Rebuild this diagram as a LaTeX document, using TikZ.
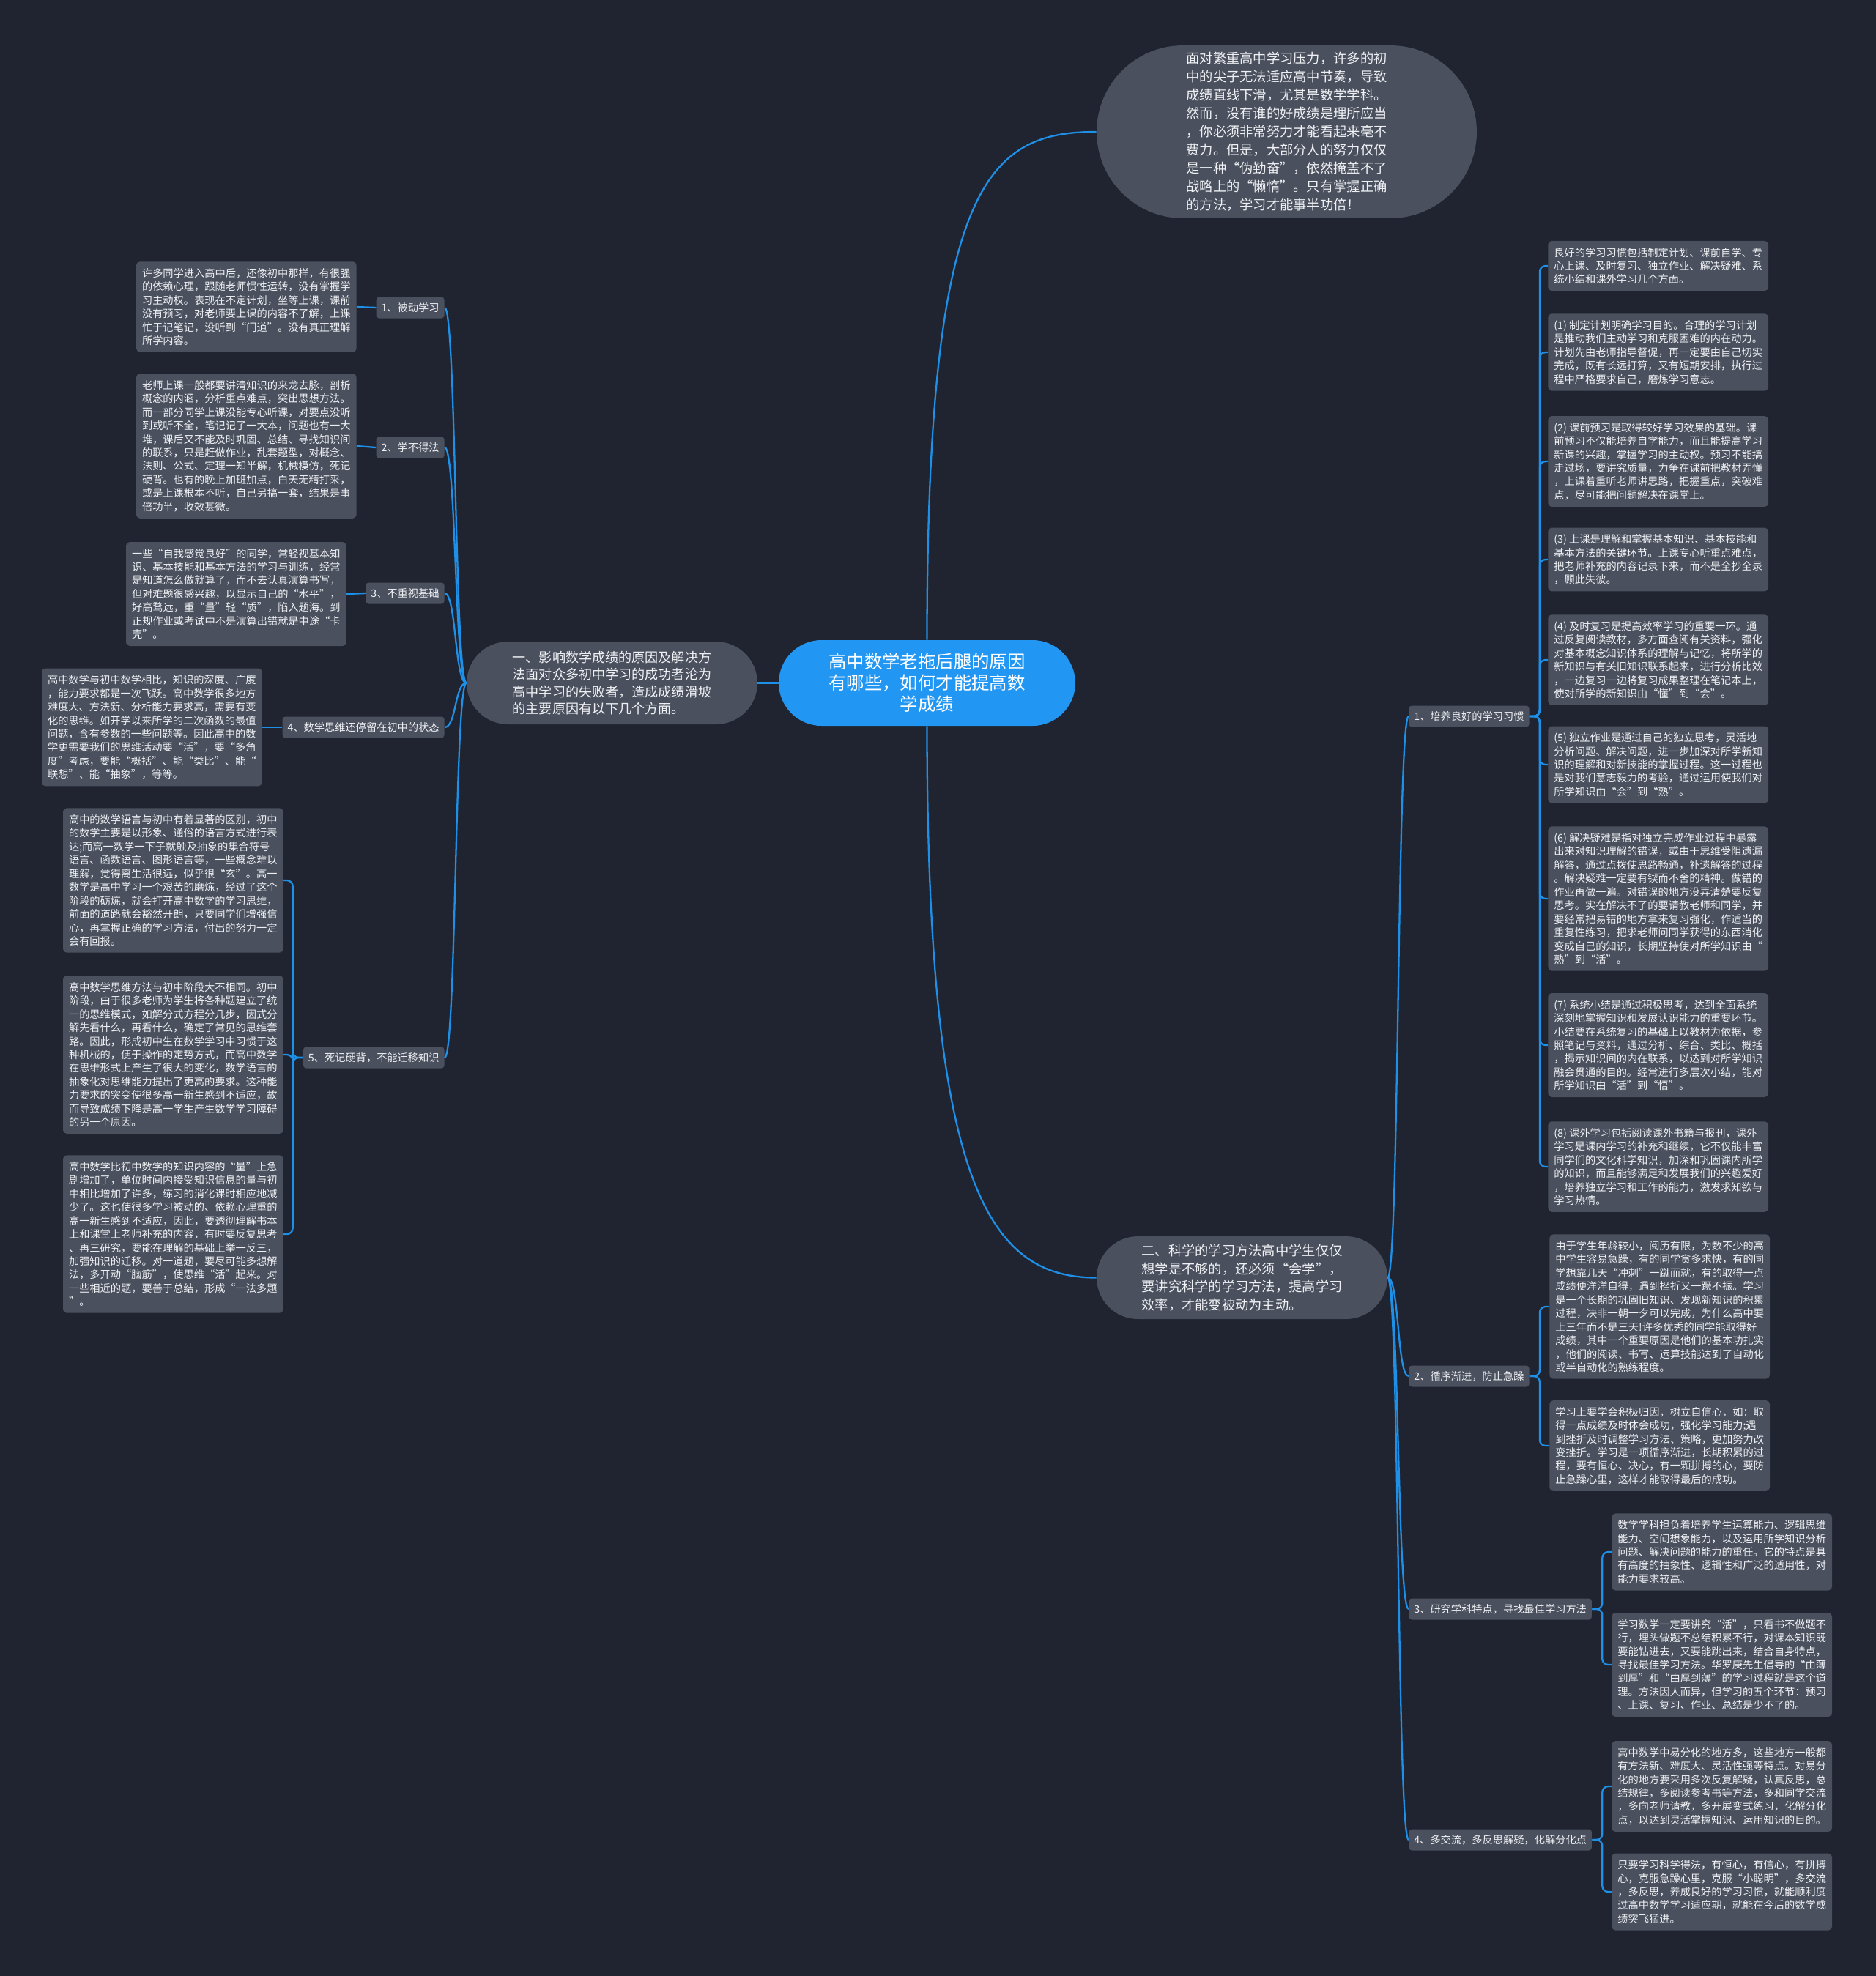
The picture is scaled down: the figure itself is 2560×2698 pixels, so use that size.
\documentclass[tikz,border=0pt]{standalone}
\usepackage{fontspec}
\setmainfont{Noto Sans CJK SC}
\usepackage{xcolor}
\definecolor{mapbg}{RGB}{32,36,48}
\definecolor{mapgray}{RGB}{74,80,93}
\definecolor{mapblue}{RGB}{33,150,243}
\definecolor{maplink}{RGB}{30,144,232}
\definecolor{maptext}{RGB}{238,240,244}
\tikzset{
  leafbox/.style ={fill=mapgray, rounded corners=0.1cm, text=maptext, align=left,
                   font=\fontsize{8.1}{10.5}\selectfont, inner xsep=0.16cm, inner ysep=0.18cm},
  tagbox/.style  ={fill=mapgray, rounded corners=0.08cm, text=maptext,
                   font=\fontsize{8.1}{10.5}\selectfont, inner xsep=0.14cm, inner ysep=0.05cm, minimum height=0.58cm},
  branchbox/.style={fill=mapgray, rounded corners=1.13cm, text=maptext, align=left,
                   font=\fontsize{10.4}{14}\selectfont, minimum width=7.94cm, minimum height=2.26cm},
  mainbox/.style ={fill=mapblue, rounded corners=1.17cm, text=white, align=center,
                   font=\fontsize{13.9}{16.6}\selectfont, minimum width=8.1cm, minimum height=2.34cm},
  link/.style    ={draw=maplink, line width=1.3pt},
  twig/.style    ={link, rounded corners=0.16cm},
}
\begin{document}
\begin{tikzpicture}[x=0.02cm,y=-0.02cm]
  \useasboundingbox (0,0) rectangle (2560,2698);
  \fill[mapbg] (-10,-10) rectangle (2570,2708);
  % centre and first level
  \node[mainbox] (root) at (1265.5,932.5) {高中数学老拖后腿的原因\\有哪些，如何才能提高数\\学成绩};
  \node[branchbox, font=\fontsize{10.3}{13.2}\selectfont] (one) at (835.5,932.5) {一、影响数学成绩的原因及解决方\\法面对众多初中学习的成功者沦为\\高中学习的失败者，造成成绩滑坡\\的主要原因有以下几个方面。};
  \node[branchbox, rounded corners=2.36cm, minimum width=10.38cm, minimum height=4.72cm,
        font=\fontsize{10.4}{14.2}\selectfont] (intro) at (1756.5,180) {面对繁重高中学习压力，许多的初\\中的尖子无法适应高中节奏，导致\\成绩直线下滑，尤其是数学学科。\\然而，没有谁的好成绩是理所应当\\，你必须非常努力才能看起来毫不\\费力。但是，大部分人的努力仅仅\\是一种“伪勤奋”，依然掩盖不了\\战略上的“懒惰”。只有掌握正确\\的方法，学习才能事半功倍！};
  \node[branchbox] (two) at (1695.5,1744.5) {二、科学的学习方法高中学生仅仅\\想学是不够的，还必须“会学”，\\要讲究科学的学习方法，提高学习\\效率，才能变被动为主动。};

  % left side
  \node[tagbox, anchor=east] (why1) at (607,420) {1、被动学习};
  \node[tagbox, anchor=east] (why2) at (607,611) {2、学不得法};
  \node[tagbox, anchor=east] (why3) at (607,810) {3、不重视基础};
  \node[tagbox, anchor=east] (why4) at (607,993) {4、数学思维还停留在初中的状态};
  \node[tagbox, anchor=east] (why5) at (607,1444) {5、死记硬背，不能迁移知识};

  \node[leafbox, anchor=east] (why1a) at (487,419) {许多同学进入高中后，还像初中那样，有很强\\的依赖心理，跟随老师惯性运转，没有掌握学\\习主动权。表现在不定计划，坐等上课，课前\\没有预习，对老师要上课的内容不了解，上课\\忙于记笔记，没听到“门道”。没有真正理解\\所学内容。};
  \node[leafbox, anchor=east] (why2a) at (487,609) {老师上课一般都要讲清知识的来龙去脉，剖析\\概念的内涵，分析重点难点，突出思想方法。\\而一部分同学上课没能专心听课，对要点没听\\到或听不全，笔记记了一大本，问题也有一大\\堆，课后又不能及时巩固、总结、寻找知识间\\的联系，只是赶做作业，乱套题型，对概念、\\法则、公式、定理一知半解，机械模仿，死记\\硬背。也有的晚上加班加点，白天无精打采，\\或是上课根本不听，自己另搞一套，结果是事\\倍功半，收效甚微。};
  \node[leafbox, anchor=east] (why3a) at (473,811) {一些“自我感觉良好”的同学，常轻视基本知\\识、基本技能和基本方法的学习与训练，经常\\是知道怎么做就算了，而不去认真演算书写，\\但对难题很感兴趣，以显示自己的“水平”，\\好高骛远，重“量”轻“质”，陷入题海。到\\正规作业或考试中不是演算出错就是中途“卡\\壳”。};
  \node[leafbox, anchor=east] (why4a) at (358,993) {高中数学与初中数学相比，知识的深度、广度\\，能力要求都是一次飞跃。高中数学很多地方\\难度大、方法新、分析能力要求高，需要有变\\化的思维。如开学以来所学的二次函数的最值\\问题，含有参数的一些问题等。因此高中的数\\学更需要我们的思维活动要“活”，要“多角\\度”考虑，要能“概括”、能“类比”、能“\\联想”、能“抽象”，等等。};
  \node[leafbox, anchor=east] (why5a) at (387,1202) {高中的数学语言与初中有着显著的区别，初中\\的数学主要是以形象、通俗的语言方式进行表\\达;而高一数学一下子就触及抽象的集合符号\\语言、函数语言、图形语言等，一些概念难以\\理解，觉得离生活很远，似乎很“玄”。高一\\数学是高中学习一个艰苦的磨炼，经过了这个\\阶段的砺炼，就会打开高中数学的学习思维，\\前面的道路就会豁然开朗，只要同学们增强信\\心，再掌握正确的学习方法，付出的努力一定\\会有回报。};
  \node[leafbox, anchor=east] (why5b) at (387,1440) {高中数学思维方法与初中阶段大不相同。初中\\阶段，由于很多老师为学生将各种题建立了统\\一的思维模式，如解分式方程分几步，因式分\\解先看什么，再看什么，确定了常见的思维套\\路。因此，形成初中生在数学学习中习惯于这\\种机械的，便于操作的定势方式，而高中数学\\在思维形式上产生了很大的变化，数学语言的\\抽象化对思维能力提出了更高的要求。这种能\\力要求的突变使很多高一新生感到不适应，故\\而导致成绩下降是高一学生产生数学学习障碍\\的另一个原因。};
  \node[leafbox, anchor=east] (why5c) at (387,1685) {高中数学比初中数学的知识内容的“量”上急\\剧增加了，单位时间内接受知识信息的量与初\\中相比增加了许多，练习的消化课时相应地减\\少了。这也使很多学习被动的、依赖心理重的\\高一新生感到不适应，因此，要透彻理解书本\\上和课堂上老师补充的内容，有时要反复思考\\、再三研究，要能在理解的基础上举一反三，\\加强知识的迁移。对一道题，要尽可能多想解\\法，多开动“脑筋”，使思维“活”起来。对\\一些相近的题，要善于总结，形成“一法多题\\”。};

  % right side
  \node[tagbox, anchor=west] (how1) at (1923,978) {1、培养良好的学习习惯};
  \node[tagbox, anchor=west] (how2) at (1923,1879) {2、循序渐进，防止急躁};
  \node[tagbox, anchor=west] (how3) at (1923,2197) {3、研究学科特点，寻找最佳学习方法};
  \node[tagbox, anchor=west] (how4) at (1923,2512) {4、多交流，多反思解疑，化解分化点};

  \node[leafbox, anchor=west] (how1a) at (2113,363) {良好的学习习惯包括制定计划、课前自学、专\\心上课、及时复习、独立作业、解决疑难、系\\统小结和课外学习几个方面。};
  \node[leafbox, anchor=west] (how1b) at (2113,481) {(1) 制定计划明确学习目的。合理的学习计划\\是推动我们主动学习和克服困难的内在动力。\\计划先由老师指导督促，再一定要由自己切实\\完成，既有长远打算，又有短期安排，执行过\\程中严格要求自己，磨炼学习意志。};
  \node[leafbox, anchor=west] (how1c) at (2113,630) {(2) 课前预习是取得较好学习效果的基础。课\\前预习不仅能培养自学能力，而且能提高学习\\新课的兴趣，掌握学习的主动权。预习不能搞\\走过场，要讲究质量，力争在课前把教材弄懂\\，上课着重听老师讲思路，把握重点，突破难\\点，尽可能把问题解决在课堂上。};
  \node[leafbox, anchor=west] (how1d) at (2113,764) {(3) 上课是理解和掌握基本知识、基本技能和\\基本方法的关键环节。上课专心听重点难点，\\把老师补充的内容记录下来，而不是全抄全录\\，顾此失彼。};
  \node[leafbox, anchor=west] (how1e) at (2113,901) {(4) 及时复习是提高效率学习的重要一环。通\\过反复阅读教材，多方面查阅有关资料，强化\\对基本概念知识体系的理解与记忆，将所学的\\新知识与有关旧知识联系起来，进行分析比效\\，一边复习一边将复习成果整理在笔记本上，\\使对所学的新知识由“懂”到“会”。};
  \node[leafbox, anchor=west] (how1f) at (2113,1044) {(5) 独立作业是通过自己的独立思考，灵活地\\分析问题、解决问题，进一步加深对所学新知\\识的理解和对新技能的掌握过程。这一过程也\\是对我们意志毅力的考验，通过运用使我们对\\所学知识由“会”到“熟”。};
  \node[leafbox, anchor=west] (how1g) at (2113,1227) {(6) 解决疑难是指对独立完成作业过程中暴露\\出来对知识理解的错误，或由于思维受阻遗漏\\解答，通过点拨使思路畅通，补遗解答的过程\\。解决疑难一定要有锲而不舍的精神。做错的\\作业再做一遍。对错误的地方没弄清楚要反复\\思考。实在解决不了的要请教老师和同学，并\\要经常把易错的地方拿来复习强化，作适当的\\重复性练习，把求老师问同学获得的东西消化\\变成自己的知识，长期坚持使对所学知识由“\\熟”到“活”。};
  \node[leafbox, anchor=west] (how1h) at (2113,1427) {(7) 系统小结是通过积极思考，达到全面系统\\深刻地掌握知识和发展认识能力的重要环节。\\小结要在系统复习的基础上以教材为依据，参\\照笔记与资料，通过分析、综合、类比、概括\\，揭示知识间的内在联系，以达到对所学知识\\融会贯通的目的。经常进行多层次小结，能对\\所学知识由“活”到“悟”。};
  \node[leafbox, anchor=west] (how1i) at (2113,1593) {(8) 课外学习包括阅读课外书籍与报刊，课外\\学习是课内学习的补充和继续，它不仅能丰富\\同学们的文化科学知识，加深和巩固课内所学\\的知识，而且能够满足和发展我们的兴趣爱好\\，培养独立学习和工作的能力，激发求知欲与\\学习热情。};

  \node[leafbox, anchor=west] (how2a) at (2115,1784) {由于学生年龄较小，阅历有限，为数不少的高\\中学生容易急躁，有的同学贪多求快，有的同\\学想靠几天“冲刺”一蹴而就，有的取得一点\\成绩便洋洋自得，遇到挫折又一蹶不振。学习\\是一个长期的巩固旧知识、发现新知识的积累\\过程，决非一朝一夕可以完成，为什么高中要\\上三年而不是三天!许多优秀的同学能取得好\\成绩，其中一个重要原因是他们的基本功扎实\\，他们的阅读、书写、运算技能达到了自动化\\或半自动化的熟练程度。};
  \node[leafbox, anchor=west] (how2b) at (2115,1974) {学习上要学会积极归因，树立自信心，如：取\\得一点成绩及时体会成功，强化学习能力;遇\\到挫折及时调整学习方法、策略，更加努力改\\变挫折。学习是一项循序渐进，长期积累的过\\程，要有恒心、决心，有一颗拼搏的心，要防\\止急躁心里，这样才能取得最后的成功。};
  \node[leafbox, anchor=west] (how3a) at (2200,2119) {数学学科担负着培养学生运算能力、逻辑思维\\能力、空间想象能力，以及运用所学知识分析\\问题、解决问题的能力的重任。它的特点是具\\有高度的抽象性、逻辑性和广泛的适用性，对\\能力要求较高。};
  \node[leafbox, anchor=west] (how3b) at (2200,2273) {学习数学一定要讲究“活”，只看书不做题不\\行，埋头做题不总结积累不行，对课本知识既\\要能钻进去，又要能跳出来，结合自身特点，\\寻找最佳学习方法。华罗庚先生倡导的“由薄\\到厚”和“由厚到薄”的学习过程就是这个道\\理。方法因人而异，但学习的五个环节：预习\\、上课、复习、作业、总结是少不了的。};
  \node[leafbox, anchor=west] (how4a) at (2200,2439) {高中数学中易分化的地方多，这些地方一般都\\有方法新、难度大、灵活性强等特点。对易分\\化的地方要采用多次反复解疑，认真反思，总\\结规律，多阅读参考书等方法，多和同学交流\\，多向老师请教，多开展变式练习，化解分化\\点，以达到灵活掌握知识、运用知识的目的。};
  \node[leafbox, anchor=west] (how4b) at (2200,2583) {只要学习科学得法，有恒心，有信心，有拼搏\\心，克服急躁心里，克服“小聪明”，多交流\\，多反思，养成良好的学习习惯，就能顺利度\\过高中数学学习适应期，就能在今后的数学成\\绩突飞猛进。};

  % connectors
  \draw[link] (root.west) -- (one.east);
  \draw[link] (root.north) .. controls +(0,-620) and +(-150,0) .. (intro.west);
  \draw[link] (root.south) .. controls +(0,620) and +(-150,0) .. (two.west);
  \foreach \k in {why1,why2,why3,why4,why5}
    \draw[link] (one.west) .. controls +(-16,0) and +(16,0) .. (\k.east);
  \foreach \k in {how1,how2,how3,how4}
    \draw[link] (two.east) .. controls +(16,0) and +(-16,0) .. (\k.west);
  \foreach \k in {why1,why2,why3,why4}
    \draw[twig] (\k.west) -- (\k a.east);
  \foreach \j in {a,b,c}
    \draw[twig] (why5.west) -- ++(-14,0) |- (why5\j.east);
  \foreach \j in {a,b,c,d,e,f,g,h,i}
    \draw[twig] (how1.east) -- ++(14,0) |- (how1\j.west);
  \foreach \k in {how2,how3,how4}
    \foreach \j in {a,b}
      \draw[twig] (\k.east) -- ++(14,0) |- (\k\j.west);
\end{tikzpicture}
\end{document}
